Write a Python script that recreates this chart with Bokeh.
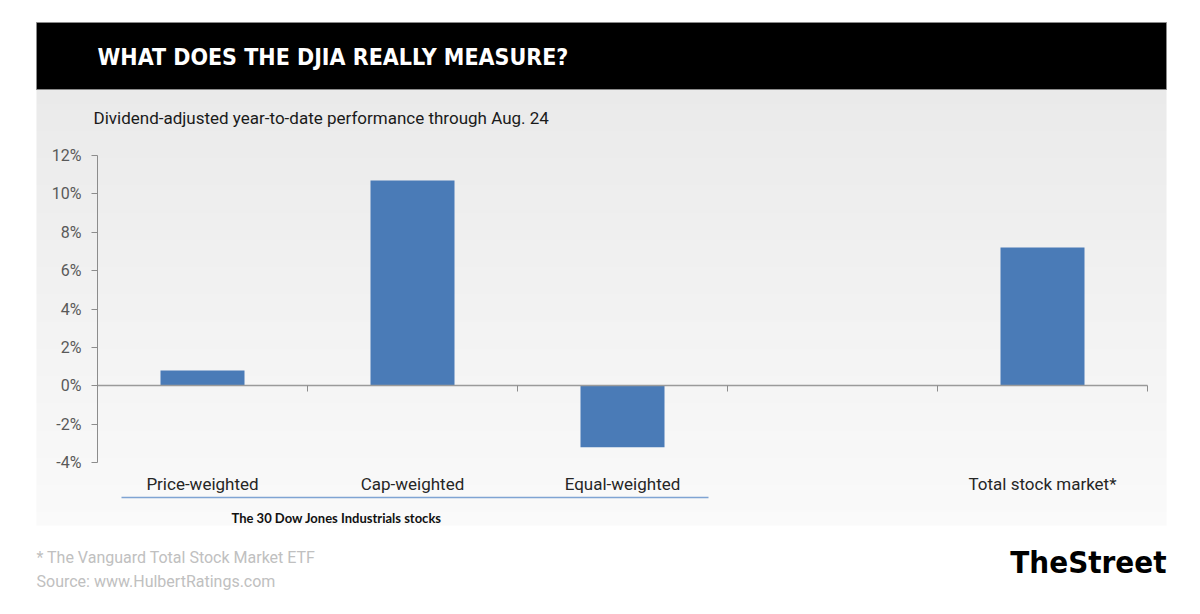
import numpy as np
from bokeh.plotting import figure
from bokeh.models import (Range1d, LinearAxis, FixedTicker, Label)
from bokeh.embed import file_html
from bokeh.resources import INLINE

# ---------------- data ----------------
TITLE = "WHAT DOES THE DJIA REALLY MEASURE?"
SUBTITLE = "Dividend-adjusted year-to-date performance through Aug. 24"
CATEGORIES = ["Price-weighted", "Cap-weighted", "Equal-weighted", "", "Total stock market*"]
VALUES = [0.8, 10.7, -3.2, None, 7.2]          # % performance
Y_TICKS = [-4, -2, 0, 2, 4, 6, 8, 10, 12]
Y_TICK_LABELS = ["-4%", "-2%", "0%", "2%", "4%", "6%", "8%", "10%", "12%"]
GROUP_LABEL = "The 30 Dow Jones Industrials stocks"
GROUP_SPAN = (0, 3)                             # first three categories
FOOTNOTES = ["* The Vanguard Total Stock Market ETF", "Source: www.HulbertRatings.com"]
BRAND = "TheStreet"

# ---------------- layout (canvas pixels) ----------------
W, H = 1184, 598
def X(win):  # screenshot x -> canvas data x
    return win
def Y(win):  # screenshot y -> canvas data y (bottom-up)
    return H - win

PLOT_L, PLOT_R = X(97), X(1147)
PLOT_T, PLOT_B = Y(155), Y(462)
Y_MIN, Y_MAX = -4, 12
px_per_pct = (PLOT_T - PLOT_B) / (Y_MAX - Y_MIN)
n_cat = len(CATEGORIES)
px_per_cat = (PLOT_R - PLOT_L) / n_cat

p = figure(width=W, height=H, x_range=Range1d(0, W), y_range=Range1d(0, H),
           x_axis_type=None, y_axis_type=None, toolbar_location=None,
           output_backend="svg", min_border=0, title=None)
p.outline_line_color = None
p.background_fill_color = "white"
p.border_fill_color = "white"
p.xgrid.visible = False
p.ygrid.visible = False

pct_start = Y_MIN - PLOT_B / px_per_pct
cat_start = -PLOT_L / px_per_cat
p.extra_y_ranges = {"pct": Range1d(pct_start, pct_start + H / px_per_pct)}
p.extra_x_ranges = {"cat": Range1d(cat_start, cat_start + W / px_per_cat)}

# ---------------- background panels ----------------
gx0, gx1, gy0, gy1 = X(36), X(1166), Y(525), Y(89)
n = 64
img = np.empty((n, 1), dtype=np.uint32)
view = img.view(dtype=np.uint8).reshape((n, 1, 4))
for i in range(n):
    t = i / (n - 1)            # 0 bottom -> 1 top
    g = int(round(250 - 16 * t))
    view[i, 0, :] = [g, g, g, 255]
p.image_rgba(image=[img], x=gx0, y=gy0, dw=gx1 - gx0, dh=gy1 - gy0)

p.quad(left=X(36), right=X(1166), bottom=Y(89), top=Y(22),
       fill_color="black", line_color="#8a8a8a", line_width=1)

# ---------------- texts ----------------
p.add_layout(Label(x=X(97), y=Y(56), text=TITLE, text_color="white",
                   text_font="DejaVu Sans Condensed", text_font_style="bold",
                   text_font_size="23px", text_baseline="alphabetic"))
p.add_layout(Label(x=X(93), y=Y(117), text=SUBTITLE, text_color="#1a1a1a",
                   text_font="Roboto", text_font_size="17px",
                   text_baseline="alphabetic"))

# ---------------- bars ----------------
bx = [i + 0.5 for i, v in enumerate(VALUES) if v is not None]
bt = [v for v in VALUES if v is not None]
p.vbar(x=bx, top=bt, bottom=0, width=0.4, fill_color="#4a7bb7", line_color=None,
       x_range_name="cat", y_range_name="pct")

# ---------------- axes ----------------
yaxis = LinearAxis(y_range_name="pct", fixed_location=PLOT_L,
                   ticker=FixedTicker(ticks=Y_TICKS, minor_ticks=[]),
                   bounds=(Y_MIN, Y_MAX))
yaxis.major_label_overrides = {t: l for t, l in zip(Y_TICKS, Y_TICK_LABELS)}
yaxis.axis_line_color = "#8c8c8c"
yaxis.axis_line_width = 1
yaxis.major_tick_line_color = "#8c8c8c"
yaxis.major_tick_in = 0
yaxis.major_tick_out = 6
yaxis.minor_tick_line_color = None
yaxis.major_label_standoff = 10
yaxis.major_label_text_font = "Roboto"
yaxis.major_label_text_font_size = "16px"
yaxis.major_label_text_color = "#595959"
p.add_layout(yaxis, "left")

zaxis = LinearAxis(x_range_name="cat", y_range_name="pct", fixed_location=0,
                   ticker=FixedTicker(ticks=list(range(n_cat + 1)), minor_ticks=[]),
                   bounds=(0, n_cat))
zaxis.axis_line_color = "#9a9a9a"
zaxis.axis_line_width = 1.5
zaxis.major_tick_line_color = "#8c8c8c"
zaxis.major_tick_in = 0
zaxis.major_tick_out = 6
zaxis.minor_tick_line_color = None
zaxis.major_label_text_color = None
p.add_layout(zaxis, "below")

cat_ticks = [i + 0.5 for i, c in enumerate(CATEGORIES) if c]
caxis = LinearAxis(x_range_name="cat", y_range_name="pct", fixed_location=Y_MIN,
                   ticker=FixedTicker(ticks=cat_ticks, minor_ticks=[]))
caxis.major_label_overrides = {i + 0.5: c for i, c in enumerate(CATEGORIES) if c}
caxis.axis_line_color = None
caxis.major_tick_line_color = None
caxis.minor_tick_line_color = None
caxis.major_tick_in = 0
caxis.major_tick_out = 0
caxis.major_label_standoff = 11
caxis.major_label_text_font = "Roboto"
caxis.major_label_text_font_size = "17px"
caxis.major_label_text_color = "#262626"
p.add_layout(caxis, "below")

g0, g1 = GROUP_SPAN
p.segment(x0=PLOT_L + g0 * px_per_cat + 24, x1=PLOT_L + g1 * px_per_cat - 19,
          y0=Y(497), y1=Y(497), line_color="#7fa4d3", line_width=1.5)
p.add_layout(Label(x=X(231), y=Y(517), text=GROUP_LABEL, text_color="#111111",
                   text_font="Lato", text_font_style="bold", text_font_size="13px",
                   text_baseline="alphabetic"))

for k, line in enumerate(FOOTNOTES):
    p.add_layout(Label(x=X(36), y=Y(557 + 24 * k), text=line, text_color="#c0c0c0",
                       text_font="Roboto", text_font_size="16px",
                       text_baseline="alphabetic"))

p.add_layout(Label(x=X(1166), y=Y(561), text=BRAND, text_color="black",
                   text_font="DejaVu Sans Condensed", text_font_style="bold",
                   text_font_size="31px", text_align="right",
                   text_baseline="alphabetic"))

open("out.html", "w").write(file_html(p, INLINE))
